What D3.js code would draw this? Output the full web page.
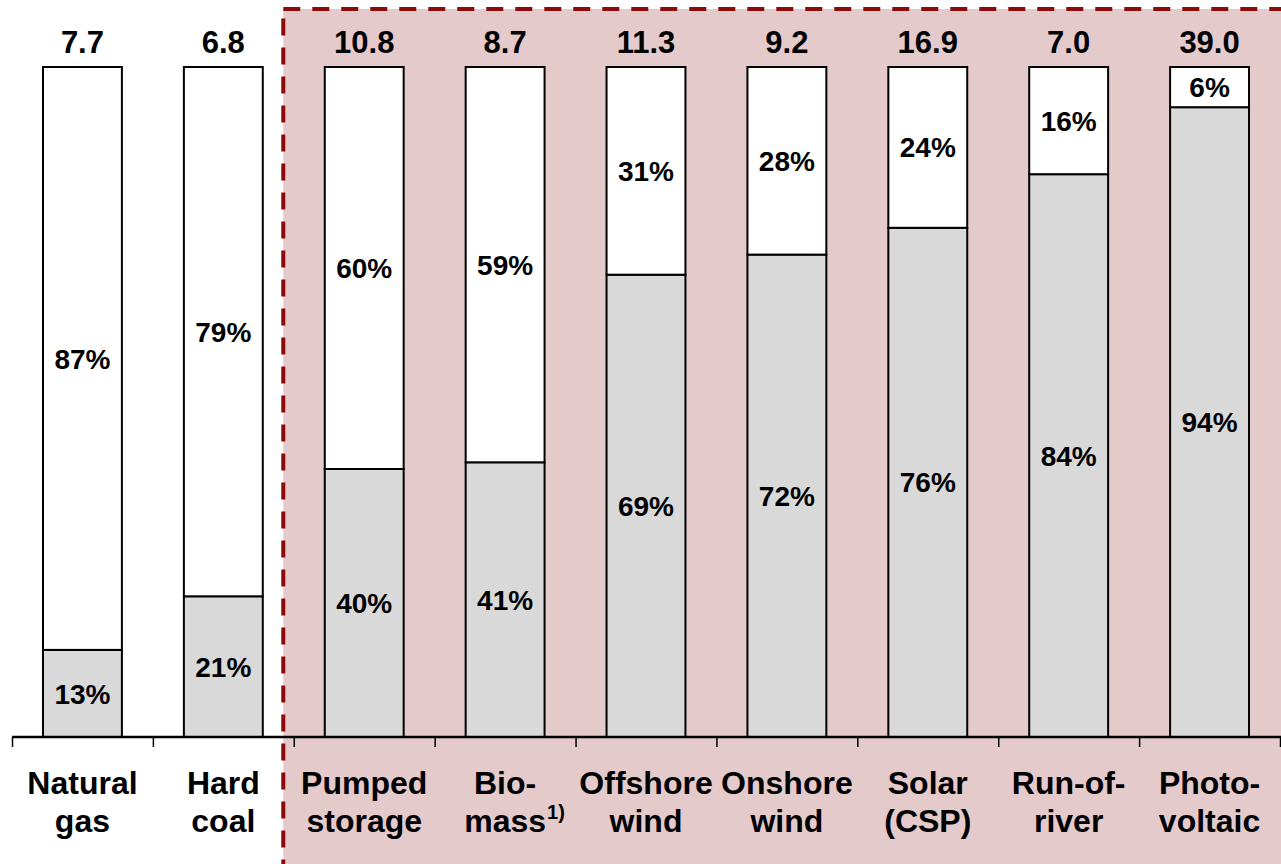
<!DOCTYPE html>
<html>
<head>
<meta charset="utf-8">
<script src="https://cdn.jsdelivr.net/npm/d3@7"></script>
<style>
  html, body { margin: 0; padding: 0; background: #ffffff; }
  svg { display: block; font-family: "Liberation Sans", Arial, sans-serif; font-weight: bold; }
</style>
</head>
<body>
<svg id="chart" width="1281" height="864"></svg>
<script>
// Technologies (two-line labels)
const categories = ["Natural gas", "Hard coal", "Pumped storage", "Biomass", "Offshore wind",
  "Onshore wind", "Solar (CSP)", "Run-of-river", "Photovoltaic"];
const labelLines = [["Natural", "gas"], ["Hard", "coal"], ["Pumped", "storage"], ["Bio-", "mass"],
  ["Offshore", "wind"], ["Onshore", "wind"], ["Solar", "(CSP)"], ["Run-of-", "river"], ["Photo-", "voltaic"]];
// Totals printed above each bar
const totals = [7.7, 6.8, 10.8, 8.7, 11.3, 9.2, 16.9, 7.0, 39.0];
// Lower (grey) share and upper (white) share, in percent
const lowerShare = [13, 21, 40, 41, 69, 72, 76, 84, 94];
const upperShare = [87, 79, 60, 59, 31, 28, 24, 16, 6];
// Technologies inside the highlighted block start here
const highlightStart = "Pumped storage";

const svg = d3.select("#chart");
const W = 1281, H = 864;
const axisY = 737, topY = 67;

const x = d3.scaleBand().domain(categories).range([12, 1280]).paddingInner(0.44).paddingOuter(0.22);
const edge = d3.scaleLinear().domain([0, categories.length]).range([12, 1280]);
const y = d3.scaleLinear().domain([0, 100]).range([axisY, topY]);

// Highlighted region with dashed border
const hx = edge(categories.indexOf(highlightStart)) - 10.5;
svg.append("rect")
  .attr("x", hx).attr("y", 9)
  .attr("width", W - hx + 40).attr("height", H + 40)
  .attr("fill", "#e4cacb")
  .attr("stroke", "#8b0a0a")
  .attr("stroke-width", 4)
  .attr("stroke-dasharray", "17,12");

// Stacked bars
const rows = categories.map((c, i) => ({ c, i, lo: lowerShare[i], up: upperShare[i], total: totals[i] }));
const g = svg.append("g");

g.selectAll("rect.lo").data(rows).join("rect")
  .attr("class", "lo")
  .attr("x", d => x(d.c)).attr("width", x.bandwidth())
  .attr("y", d => y(d.lo)).attr("height", d => y(0) - y(d.lo))
  .attr("fill", "#d9d9d9").attr("stroke", "#000").attr("stroke-width", 2);

g.selectAll("rect.up").data(rows).join("rect")
  .attr("class", "up")
  .attr("x", d => x(d.c)).attr("width", x.bandwidth())
  .attr("y", d => y(d.lo + d.up)).attr("height", d => y(d.lo) - y(d.lo + d.up))
  .attr("fill", "#ffffff").attr("stroke", "#000").attr("stroke-width", 2);

// Percent labels centred in each segment
g.selectAll("text.plo").data(rows).join("text")
  .attr("class", "plo")
  .attr("x", d => x(d.c) + x.bandwidth() / 2)
  .attr("y", d => (y(0) + y(d.lo)) / 2)
  .attr("dy", "0.36em")
  .attr("text-anchor", "middle").attr("font-size", 28)
  .text(d => d.lo + "%");

g.selectAll("text.pup").data(rows).join("text")
  .attr("class", "pup")
  .attr("x", d => x(d.c) + x.bandwidth() / 2)
  .attr("y", d => (y(d.lo) + y(d.lo + d.up)) / 2)
  .attr("dy", "0.36em")
  .attr("text-anchor", "middle").attr("font-size", 28)
  .text(d => d.up + "%");

// Totals above the bars
g.selectAll("text.tot").data(rows).join("text")
  .attr("class", "tot")
  .attr("x", d => x(d.c) + x.bandwidth() / 2)
  .attr("y", y(100) - 14)
  .attr("text-anchor", "middle").attr("font-size", 31)
  .text(d => d.total.toFixed(1));

// Axis with ticks at the band boundaries
const axis = d3.axisBottom(edge).tickValues(d3.range(categories.length + 1))
  .tickSize(10).tickSizeOuter(0).tickFormat("");
const ax = svg.append("g").attr("transform", `translate(0,${axisY})`).call(axis);
ax.select(".domain").attr("stroke", "#000").attr("stroke-width", 2.5)
  .attr("d", `M${edge(0)},0H${W}`);
ax.selectAll(".tick line").attr("stroke", "#000").attr("stroke-width", 1.5);

// Category labels
const lab = svg.append("g").selectAll("g").data(rows).join("g");
lab.each(function (d) {
  const sel = d3.select(this);
  const cx = x(d.c) + x.bandwidth() / 2;
  labelLines[d.i].forEach((line, k) => {
    const t = sel.append("text")
      .attr("x", cx).attr("y", 794 + k * 38)
      .attr("text-anchor", "middle").attr("font-size", 32)
      .text(line);
    if (d.c === "Biomass" && k === 1) {
      const w = t.node().getComputedTextLength();
      sel.append("text")
        .attr("x", cx + w / 2 + 1).attr("y", 819)
        .attr("font-size", 20)
        .text("1)");
    }
  });
});
</script>
</body>
</html>
